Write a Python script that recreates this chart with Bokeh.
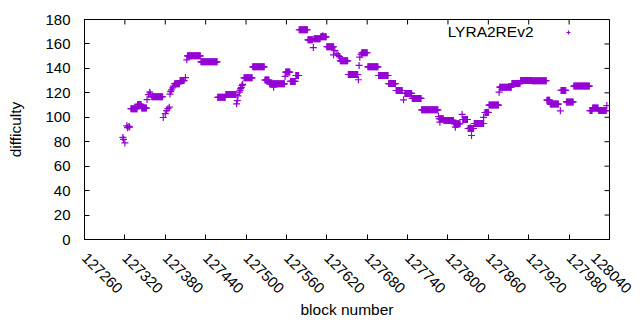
import numpy as np
from bokeh.plotting import figure
from bokeh.models import (FixedTicker, Range1d, BasicTickFormatter, ColumnDataSource,
                          Label, Legend, LegendItem)
from bokeh.embed import file_html
from bokeh.resources import INLINE

# ---- data (block number -> difficulty) ----
# plateaus: consecutive blocks with the same difficulty
run_start = [127329, 127339, 127345, 127360, 127394, 127402, 127413, 127433, 127458, 127470,
             127497, 127510, 127528, 127535, 127559, 127566, 127574, 127579, 127592, 127601,
             127611, 127620, 127640, 127652, 127672, 127681, 127697, 127712, 127723, 127736,
             127747, 127761, 127787, 127794, 127809, 127822, 127830, 127839, 127855, 127861,
             127877, 127895, 127908, 127925, 127947, 127952, 127968, 127976, 127987, 128011,
             128015, 128024]
run_end = [127338, 127344, 127352, 127376, 127401, 127408, 127432, 127457, 127469, 127485,
           127509, 127527, 127534, 127557, 127565, 127573, 127578, 127591, 127599, 127610,
           127619, 127630, 127651, 127666, 127680, 127696, 127711, 127722, 127732, 127746,
           127760, 127785, 127793, 127808, 127818, 127829, 127838, 127853, 127860, 127875,
           127894, 127907, 127924, 127946, 127951, 127964, 127975, 127986, 128010, 128014,
           128023, 128035]
run_value = [107, 110.5, 107.5, 116.8, 127.5, 130, 150.3, 145.4, 116.3, 118.6,
             132.3, 141.3, 130.5, 127.4, 137, 129.3, 134.2, 171.6, 163.4, 164.2,
             165.8, 157.7, 146.2, 135, 152.8, 141.3, 134.2, 127.6, 121.9, 119.5,
             115.4, 106.1, 98.8, 97.4, 94.7, 98.2, 90.8, 94.9, 103.9, 110,
             124.6, 127.6, 130.1, 129.9, 114, 110.8, 122, 112.6, 125.5, 105.5,
             107.5, 105.5]

# isolated blocks
single_block = [127317, 127318, 127320, 127323, 127324, 127326, 127327,
                127353, 127355, 127357, 127358,
                127377, 127380, 127382, 127384, 127386,
                127387, 127388, 127389, 127391, 127392,
                127410, 127412,
                127486, 127487, 127488, 127490, 127491, 127492, 127493, 127494, 127495,
                127541, 127558, 127600, 127614,
                127630, 127632, 127635, 127637, 127639,
                127667, 127668, 127669, 127671,
                127734, 127786, 127788, 127811, 127814, 127821,
                127833, 127835, 127853, 127858, 127876, 127967, 128036]
single_value = [83.5, 82, 79, 93, 91.5, 92.5, 92,
                114.5, 118.5, 120.5, 119,
                99.8, 103, 105.5, 107, 108.3,
                119, 121, 122.5, 124, 125.5,
                132.5, 147,
                111, 113.7, 117.5, 120.5, 122, 123.5, 124.5, 126, 127,
                124.6, 133.4, 157, 166.8,
                151.1, 154.6, 151.9, 150.5, 149.7,
                130.7, 142.4, 149.2, 151.4,
                114.3, 100.6, 96, 91.9, 94, 102.3,
                91.4, 85.1, 100, 104.2, 120.5, 105.3, 109.6]

series_name = "LYRA2REv2"
x_ticks = list(range(127260, 128041, 60))
y_ticks = list(range(0, 181, 20))
x_min, x_max = 127260, 128040
y_min, y_max = 0, 180

COLOR = "#9400d3"
FONT = "Liberation Sans"

blocks, vals = [], []
for s, e, v in zip(run_start, run_end, run_value):
    for b in range(s, e + 1):
        blocks.append(b)
        vals.append(v)
blocks += single_block
vals += single_value
src = ColumnDataSource(data=dict(block=blocks, diff=vals))

p = figure(width=632, height=322, output_backend="svg", toolbar_location=None,
           x_range=Range1d(x_min, x_max), y_range=Range1d(y_min, y_max),
           min_border_left=84, min_border_right=23, min_border_top=19, min_border_bottom=83)
p.background_fill_color = "white"
p.border_fill_color = "white"
p.outline_line_color = "black"
p.outline_line_width = 1
p.outline_line_alpha = 1
p.xgrid.visible = False
p.ygrid.visible = False

p.xaxis.ticker = FixedTicker(ticks=x_ticks)
p.xaxis.formatter = BasicTickFormatter(use_scientific=False)
p.xaxis.major_label_orientation = -np.pi / 4
p.yaxis.ticker = FixedTicker(ticks=y_ticks)
p.xaxis.axis_label = "block number"
p.yaxis.axis_label = "difficulty"

for ax in p.axis:
    ax.major_tick_in = 5
    ax.major_tick_out = 0
    ax.minor_tick_in = 0
    ax.minor_tick_out = 0
    ax.axis_line_color = "black"
    ax.major_tick_line_color = "black"
    ax.major_label_text_font = FONT
    ax.major_label_text_font_size = "15px"
    ax.major_label_text_color = "black"
    ax.axis_label_text_font = FONT
    ax.axis_label_text_font_size = "15.5px"
    ax.axis_label_text_font_style = "normal"
    ax.axis_label_text_color = "black"
p.yaxis.major_label_standoff = 14
p.yaxis.axis_label_standoff = 18
p.xaxis.major_label_standoff = 16
p.xaxis.axis_label_standoff = 0

# mirrored ticks on top and right borders
p.ray(x=x_ticks, y=y_max, length=5, angle=-np.pi / 2, length_units="screen",
      line_color="black", line_width=1)
p.ray(x=x_max, y=y_ticks, length=5, angle=np.pi, length_units="screen",
      line_color="black", line_width=1)

r = p.scatter(x="block", y="diff", source=src, marker="cross", size=7,
              line_color=COLOR, line_width=1.2)

# key: text then sample, like the original
p.add_layout(Label(x=449, y=208, x_units="screen", y_units="screen", text=series_name,
                   text_font=FONT, text_font_size="15.5px", text_color="black",
                   text_align="right", text_baseline="middle"))
leg = Legend(items=[LegendItem(label=" ", renderers=[r])], location=(479, 202),
             padding=0, margin=0, spacing=0, glyph_width=10, glyph_height=10,
             label_standoff=0, label_text_font_size="1px", label_width=0, label_height=0,
             border_line_alpha=0, background_fill_alpha=0)
p.add_layout(leg)

open("out.html", "w").write(file_html(p, INLINE))
